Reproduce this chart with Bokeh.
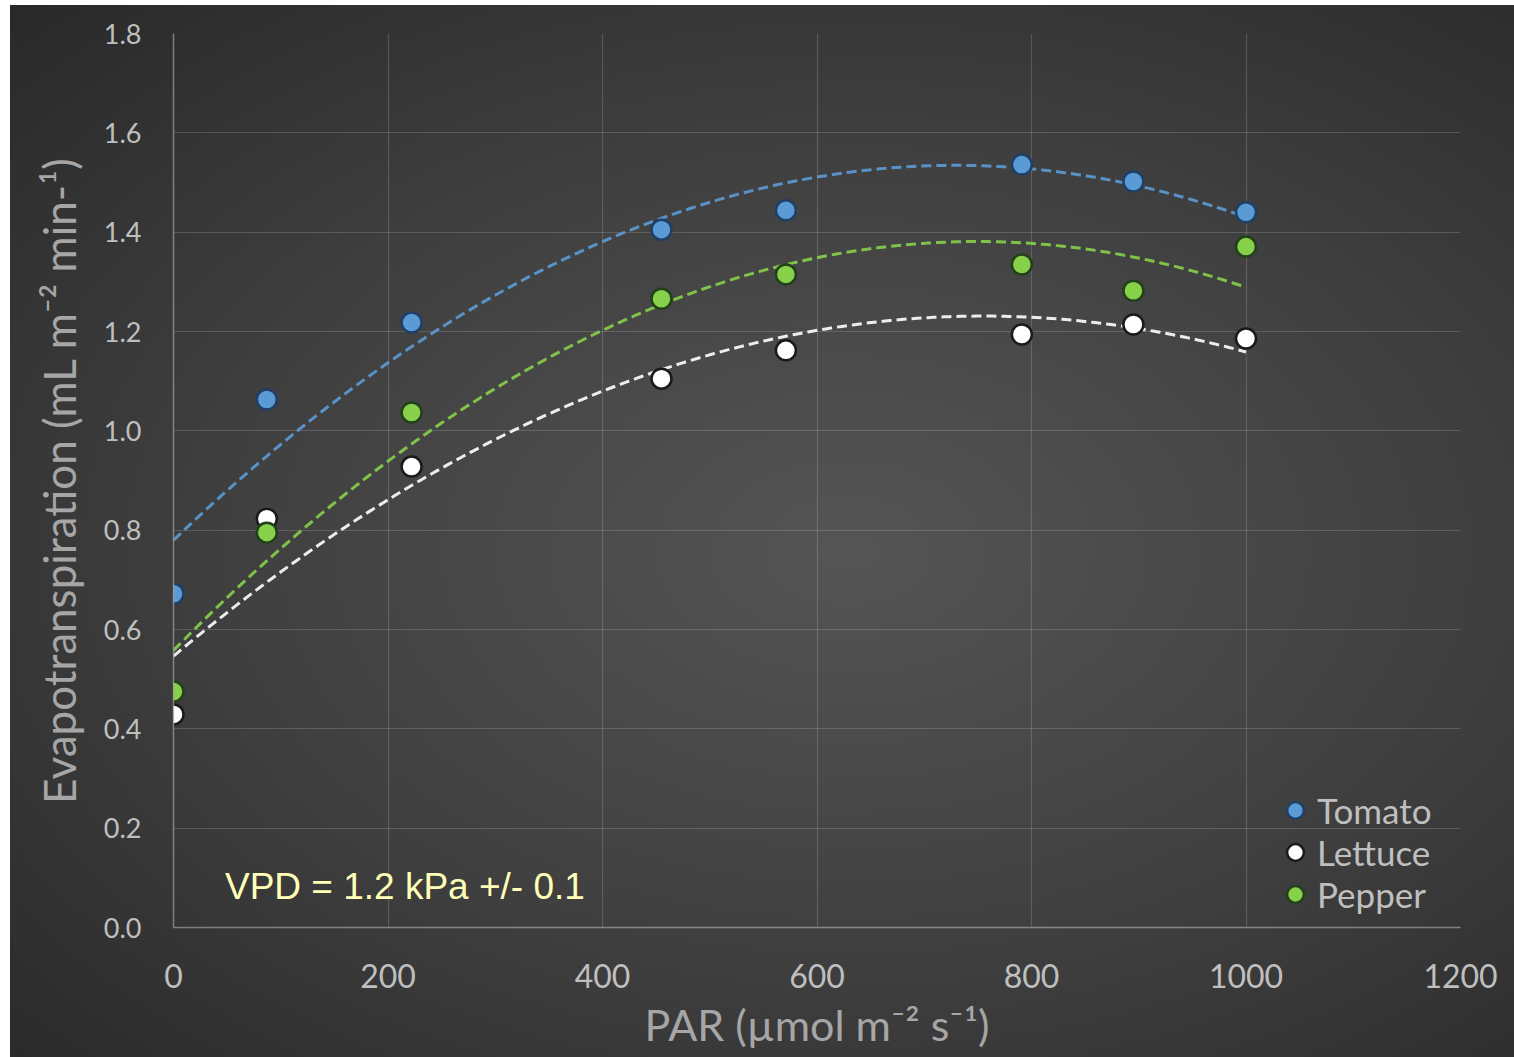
import numpy as np
from bokeh.plotting import figure
from bokeh.models import Range1d, Label, Legend, LegendItem, SingleIntervalTicker, CustomJSTickFormatter
from bokeh.embed import file_html
from bokeh.resources import INLINE

# ---- data ----
par = [0, 87, 222, 455, 571, 791, 895, 1000]
tomato = [0.672, 1.063, 1.218, 1.405, 1.444, 1.536, 1.502, 1.440]
lettuce = [0.429, 0.823, 0.928, 1.105, 1.162, 1.194, 1.214, 1.186]
pepper = [0.475, 0.795, 1.037, 1.266, 1.315, 1.335, 1.282, 1.371]

series = [
    ("Tomato", tomato, "#5b9bd5", "#1f3f66", "#5b9bd5"),
    ("Lettuce", lettuce, "#ffffff", "#1a1a1a", "#ffffff"),
    ("Pepper", pepper, "#86d04a", "#22401a", "#86d04a"),
]

FONT = "Lato"
TITLE_FONT = "Lato, Noto Sans"

p = figure(width=1514, height=1057, output_backend="svg", toolbar_location=None,
           x_range=Range1d(0, 1200), y_range=Range1d(0, 1.8),
           min_border_left=173, min_border_right=54, min_border_top=33, min_border_bottom=130,
           background_fill_color=None, border_fill_color=None, outline_line_color=None)
p.styles = {"background": "linear-gradient(to right, #ffffff 10px, rgba(0,0,0,0) 10px), "
                          "linear-gradient(to bottom, #ffffff 5px, rgba(0,0,0,0) 5px), "
                          "radial-gradient(ellipse farthest-corner at 56% 52%, #555555 0%, #3e3e3e 55%, #282828 100%)"}

p.xaxis.ticker = SingleIntervalTicker(interval=200)
p.yaxis.ticker = SingleIntervalTicker(interval=0.2)
p.yaxis.formatter = CustomJSTickFormatter(code="return tick.toFixed(1);")

for ax in (p.xaxis, p.yaxis):
    ax.axis_line_color = "#bfbfbf"
    ax.axis_line_alpha = 0.55
    ax.axis_line_width = 1.5
    ax.major_tick_line_color = None
    ax.minor_tick_line_color = None
    ax.major_label_text_color = "#bfbfbf"
    ax.major_label_text_font = FONT
    ax.axis_label_text_color = "#a6a6a6"
    ax.axis_label_text_font = TITLE_FONT
    ax.axis_label_text_font_style = "normal"

p.xaxis.major_label_text_font_size = "32px"
p.yaxis.major_label_text_font_size = "27px"
p.xaxis.major_label_standoff = 30
p.yaxis.major_label_standoff = 26
p.xaxis.axis_label = "PAR (µmol m⁻² s⁻¹)"
p.yaxis.axis_label = "Evapotranspiration (mL m⁻² min-¹)"
p.xaxis.axis_label_text_font_size = "43px"
p.yaxis.axis_label_text_font_size = "44px"
p.xaxis.axis_label_standoff = 8
p.yaxis.axis_label_standoff = 16

p.grid.grid_line_color = "#d9d9d9"
p.grid.grid_line_alpha = 0.2
p.grid.grid_line_width = 1.2

xs = np.linspace(0, 1000, 200)
items = []
for name, vals, fill, outline, lc in series:
    coef = np.polyfit(par, vals, 2)
    p.line(xs, np.polyval(coef, xs), line_color=lc, line_width=3, line_dash="10 5", line_alpha=0.9)
for name, vals, fill, outline, lc in series:
    r = p.scatter(par, vals, size=20, fill_color=fill, line_color=outline, line_width=2.5)
    items.append(LegendItem(label=name, renderers=[r]))

legend = Legend(items=items, location=(1100, 12), background_fill_alpha=0,
                border_line_color=None, label_text_font=FONT, label_text_font_size="35px",
                label_text_color="#bfbfbf", spacing=0, padding=0, margin=0,
                glyph_width=44, glyph_height=42, label_standoff=0, label_height=42)
p.add_layout(legend)

p.add_layout(Label(x=48, y=0.083, text="VPD = 1.2 kPa +/- 0.1", text_font="Liberation Sans",
                   text_font_size="37px", text_color="#ffffb8", text_baseline="middle"))

open("out.html", "w").write(file_html(p, INLINE))
